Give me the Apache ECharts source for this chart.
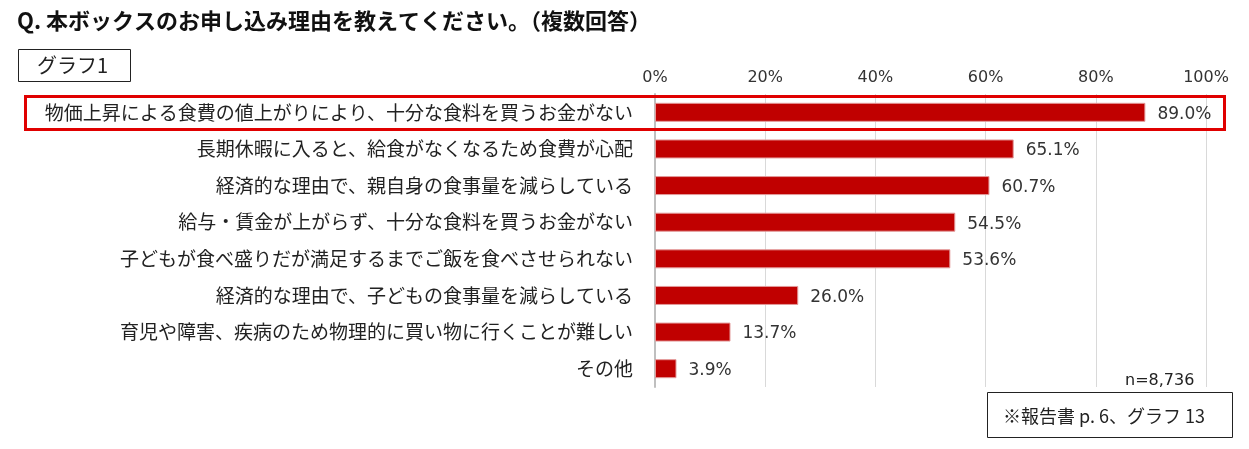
<!DOCTYPE html>
<html>
<head>
<meta charset="utf-8">
<script src="https://cdn.jsdelivr.net/npm/echarts@6/dist/echarts.min.js"></script>
<style>
html,body{margin:0;padding:0;background:#fff;}
#main{width:1249px;height:449px;}
</style>
</head>
<body>
<div id="main"></div>
<script>
// 申し込み理由（複数回答）
var categories = [
	'物価上昇による食費の値上がりにより、十分な食料を買うお金がない',
	'長期休暇に入ると、給食がなくなるため食費が心配',
	'経済的な理由で、親自身の食事量を減らしている',
	'給与・賃金が上がらず、十分な食料を買うお金がない',
	'子どもが食べ盛りだが満足するまでご飯を食べさせられない',
	'経済的な理由で、子どもの食事量を減らしている',
	'育児や障害、疾病のため物理的に買い物に行くことが難しい',
	'その他'
];
var values = [89.0, 65.1, 60.7, 54.5, 53.6, 26.0, 13.7, 3.9];
var ticks = [0, 20, 40, 60, 80, 100];

var font = '"Noto Sans CJK JP", "Noto Sans", sans-serif';
var numFont = '"DejaVu Sans", "Noto Sans", sans-serif';
var myChart = echarts.init(document.getElementById('main'));

var option = {
	backgroundColor: '#fff',
	animation: false,
	grid: {
		left: 655,
		right: 43,
		top: 94,
		bottom: 62
	},
	xAxis: {
		type: 'value',
		position: 'top',
		min: ticks[0],
		max: ticks[ticks.length - 1],
		interval: 20,
		axisLine: {show: false},
		axisTick: {show: false},
		axisLabel: {
			formatter: '{value}%',
			color: '#333',
			fontSize: 16,
			fontFamily: numFont,
			margin: 8
		},
		splitLine: {lineStyle: {color: '#d9d9d9', width: 1}}
	},
	yAxis: {
		type: 'category',
		inverse: true,
		data: categories,
		axisLine: {show: true, lineStyle: {color: '#bfbfbf', width: 2}},
		axisTick: {show: false},
		axisLabel: {
			color: '#222',
			fontSize: 19,
			fontFamily: font,
			margin: 22
		}
	},
	series: [
		{
			type: 'bar',
			data: values,
			barWidth: 19,
			itemStyle: {
				color: '#c00000',
				borderColor: '#e39a9a',
				borderWidth: 1
			},
			label: {
				show: true,
				position: 'right',
				distance: 12,
				offset: [0, 2],
				color: '#333',
				fontSize: 17,
				fontFamily: numFont,
				formatter: function (p) { return p.value.toFixed(1) + '%'; }
			}
		}
	],
	graphic: [
		{
			type: 'text',
			x: 17,
			y: 21,
			style: {
				text: 'Q. 本ボックスのお申し込み理由を教えてください。（複数回答）',
				font: 'bold 22px ' + font,
				fill: '#111',
				verticalAlign: 'middle'
			}
		},
		{
			type: 'rect',
			shape: {x: 18.5, y: 49.5, width: 112, height: 32},
			style: {fill: '#fff', stroke: '#222', lineWidth: 1}
		},
		{
			type: 'text',
			x: 37,
			y: 65,
			style: {text: 'グラフ1', font: '20px ' + font, fill: '#222', verticalAlign: 'middle'}
		},
		{
			type: 'rect',
			z: 10,
			shape: {x: 25.5, y: 96.5, width: 1199, height: 33},
			style: {fill: 'none', stroke: '#e00000', lineWidth: 3}
		},
		{
			type: 'text',
			x: 1125,
			y: 381,
			style: {text: 'n=8,736', font: '16px ' + numFont, fill: '#222', verticalAlign: 'middle'}
		},
		{
			type: 'rect',
			shape: {x: 987.5, y: 392.5, width: 245, height: 45},
			style: {fill: '#fff', stroke: '#222', lineWidth: 1}
		},
		{
			type: 'text',
			x: 1003,
			y: 416,
			style: {text: '※報告書 p. 6、グラフ 13', font: '18px ' + font, fill: '#222', verticalAlign: 'middle'}
		}
	]
};
myChart.setOption(option);
</script>
</body>
</html>
